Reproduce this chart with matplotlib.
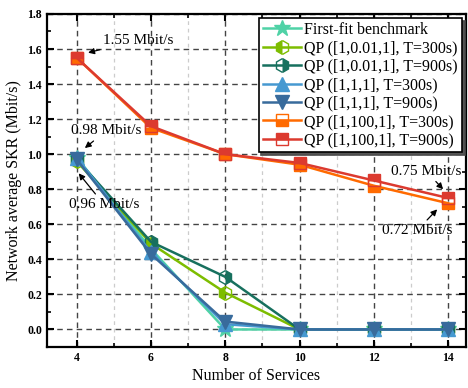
import numpy as np
import matplotlib
matplotlib.use("Agg")
import matplotlib.pyplot as plt
from matplotlib.ticker import MultipleLocator, FormatStrFormatter

plt.rcParams['font.family'] = ['Liberation Serif', 'DejaVu Serif']

# data
services = [4, 6, 8, 10, 12, 14]
first_fit = [0.98, 0.46, 0.0, 0.0, 0.0, 0.0]
qp_001_300 = [0.96, 0.49, 0.21, 0.0, 0.0, 0.0]
qp_001_900 = [0.97, 0.50, 0.30, 0.0, 0.0, 0.0]
qp_111_300 = [0.98, 0.44, 0.03, 0.0, 0.0, 0.0]
qp_111_900 = [0.97, 0.43, 0.045, 0.0, 0.0, 0.0]
qp_100_300 = [1.55, 1.15, 1.0, 0.94, 0.82, 0.72]
qp_100_900 = [1.55, 1.16, 1.0, 0.95, 0.85, 0.75]

labels = ["First-fit benchmark",
          "QP ([1,0.01,1], T=300s)",
          "QP ([1,0.01,1], T=900s)",
          "QP ([1,1,1], T=300s)",
          "QP ([1,1,1], T=900s)",
          "QP ([1,100,1], T=300s)",
          "QP ([1,100,1], T=900s)"]

fig = plt.figure(figsize=(4.68, 3.88), dpi=100)
ax = fig.add_axes([0.1004, 0.1057, 0.8953, 0.8583])

# series: values, colour, marker, fillstyle, size
series = [
    (first_fit, '#4fd2a6', '*', 'full', 12),
    (qp_001_300, '#7dbd00', 'h', 'left', 10),
    (qp_001_900, '#17705e', 'h', 'right', 10),
    (qp_111_300, '#4699d1', '^', 'full', 10),
    (qp_111_900, '#386b9c', 'v', 'full', 10),
    (qp_100_300, '#ff6a00', 's', 'bottom', 9),
    (qp_100_900, '#dc3a2f', 's', 'top', 9),
]

for (vals, col, mk, fs, ms), lab in zip(series, labels):
    ax.plot(services, vals, color=col, lw=1.8, marker=mk, markersize=ms,
            fillstyle=fs, markerfacecolor=col, markerfacecoloralt='none',
            markeredgecolor=col, markeredgewidth=1.0, label=lab, zorder=3)

ax.set_xlim(3.2, 14.48)
ax.set_ylim(-0.1, 1.8)
ax.xaxis.set_major_locator(MultipleLocator(2))
ax.xaxis.set_minor_locator(MultipleLocator(1))
ax.yaxis.set_major_locator(MultipleLocator(0.2))
ax.yaxis.set_minor_locator(MultipleLocator(0.1))
ax.yaxis.set_major_formatter(FormatStrFormatter('%.1f'))

ax.grid(True, which='major', linestyle=(0, (4, 3)), color='#444444', lw=1.0, zorder=0)
ax.grid(True, which='minor', axis='x', linestyle=(0, (3, 3)), color='#cccccc', lw=0.9, zorder=0)

ax.tick_params(which='both', direction='in', top=True, right=True)
ax.tick_params(which='major', length=5, width=1.5, labelsize=8.5)
ax.tick_params(which='minor', length=3, width=1.2)
for lab in ax.get_xticklabels() + ax.get_yticklabels():
    lab.set_fontweight('bold')
for sp in ax.spines.values():
    sp.set_linewidth(1.6)

ax.set_xlabel("Number of Services", fontsize=11.5, labelpad=3)
ax.set_ylabel("Network average SKR (Mbit/s)", fontsize=11.5, labelpad=4)

arrow = dict(arrowstyle='-|>', color='black', lw=0.9, mutation_scale=9, shrinkA=1, shrinkB=1)
ax.annotate("1.55 Mbit/s", xy=(4.27, 1.577), xytext=(5.65, 1.651), fontsize=11,
            ha='center', va='center', arrowprops=arrow, zorder=5)
ax.annotate("0.98 Mbit/s", xy=(4.19, 1.03), xytext=(4.79, 1.133), fontsize=11,
            ha='center', va='center', arrowprops=arrow, zorder=5)
ax.annotate("0.96 Mbit/s", xy=(4.03, 0.897), xytext=(4.73, 0.714), fontsize=11,
            ha='center', va='center', arrowprops=arrow, zorder=5)
ax.annotate("0.75 Mbit/s", xy=(13.89, 0.794), xytext=(13.41, 0.903), fontsize=11,
            ha='center', va='center', arrowprops=arrow, zorder=5)
ax.annotate("0.72 Mbit/s", xy=(13.73, 0.691), xytext=(13.17, 0.566), fontsize=11,
            ha='center', va='center', arrowprops=arrow, zorder=5)

leg = ax.legend(loc='upper right', bbox_to_anchor=(0.990, 0.988), fontsize=11.5,
                frameon=True, fancybox=False, edgecolor='black', framealpha=1,
                handlelength=2.4, handletextpad=0.2, borderpad=0.25,
                labelspacing=0.15, borderaxespad=0,
                shadow={'facecolor': '#555555', 'alpha': 1})
leg.get_frame().set_linewidth(1.2)
leg.set_zorder(6)

fig.savefig("out.png", dpi=100)
